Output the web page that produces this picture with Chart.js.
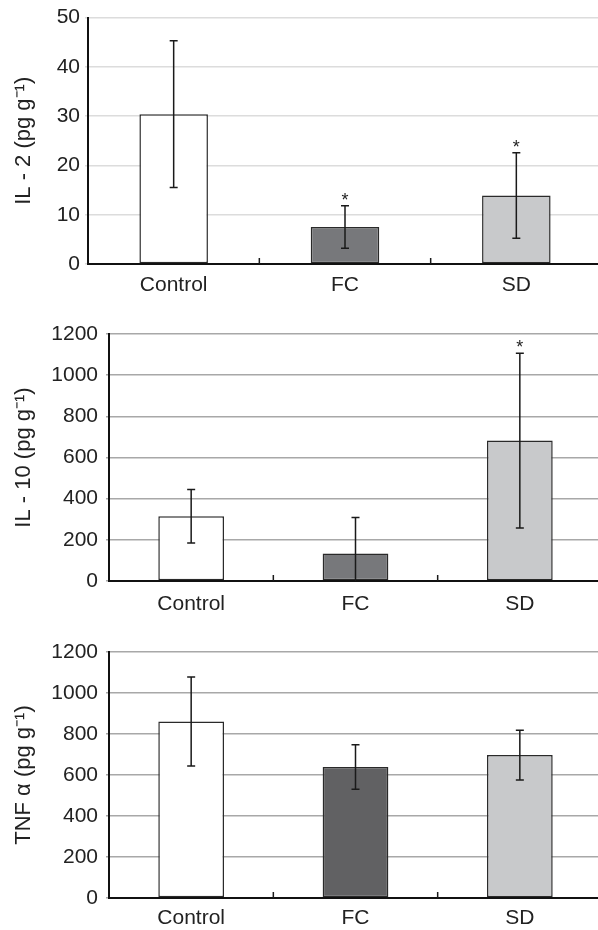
<!DOCTYPE html>
<html>
<head>
<meta charset="utf-8">
<script src="https://cdn.jsdelivr.net/npm/chart.js@4/dist/chart.umd.min.js"></script>
<style>
    html, body { margin: 0; padding: 0; background: #fff; overflow: hidden; width: 598px; height: 930px; }
    canvas { display: block; }
</style>
</head>
<body>
<canvas id="il2-chart" width="604" height="300"></canvas>
<canvas id="il10-chart" width="604" height="320"></canvas>
<canvas id="tnf-chart" width="604" height="310"></canvas>
<script>
// --- data ---
const groups = ['Control', 'FC', 'SD'];

const il2Mean = [30.4, 7.5, 13.9];
const il2Err = [14.9, 4.3, 8.7];
const il2Star = [false, true, true];
const il2Ticks = [0, 10, 20, 30, 40, 50];

const il10Mean = [315, 133, 682];
const il10Err = [130, 176, 424];
const il10Star = [false, false, true];
const il10Ticks = [0, 200, 400, 600, 800, 1000, 1200];

const tnfMean = [861, 639, 697];
const tnfErr = [217, 108, 121];
const tnfStar = [false, false, false];
const tnfTicks = [0, 200, 400, 600, 800, 1000, 1200];

const FONT = '"Liberation Sans", Arial, Helvetica, sans-serif';

// error bars, asterisks and the little category ticks on the x axis
const errorBars = {
    id: 'errorBars',
    afterDatasetsDraw(chart, args, opts) {
        const { ctx, chartArea: a, scales: { x, y } } = chart;
        const meta = chart.getDatasetMeta(0);

        ctx.save();
        ctx.beginPath();
        ctx.rect(a.left, a.top - 40, a.right - a.left, a.bottom - a.top + 40);
        ctx.clip();

        ctx.strokeStyle = '#1a1a1a';
        ctx.lineWidth = 1.5;
        meta.data.forEach((bar, i) => {
            const cx = bar.x;
            const hi = y.getPixelForValue(opts.mean[i] + opts.err[i]);
            const lo = y.getPixelForValue(opts.mean[i] - opts.err[i]);
            ctx.beginPath();
            ctx.moveTo(cx, hi); ctx.lineTo(cx, lo);
            ctx.moveTo(cx - 4, hi); ctx.lineTo(cx + 4, hi);
            ctx.moveTo(cx - 4, lo); ctx.lineTo(cx + 4, lo);
            ctx.stroke();

            if (opts.star[i]) {
                ctx.fillStyle = '#222';
                ctx.font = '18px ' + FONT;
                ctx.textAlign = 'center';
                ctx.textBaseline = 'alphabetic';
                ctx.fillText('*', cx, hi);
            }
        });
        ctx.restore();

        // small upward ticks between categories
        ctx.save();
        ctx.strokeStyle = '#1a1a1a';
        ctx.lineWidth = 1.5;
        for (let i = 0; i < groups.length - 1; i++) {
            const bx = (x.getPixelForValue(i) + x.getPixelForValue(i + 1)) / 2;
            ctx.beginPath();
            ctx.moveTo(bx, a.bottom);
            ctx.lineTo(bx, a.bottom - 6);
            ctx.stroke();
        }
        ctx.restore();
    }
};

function makeChart(id, cfg) {
    const ctx = document.getElementById(id).getContext('2d');
    return new Chart(ctx, {
        type: 'bar',
        data: {
            labels: groups,
            datasets: [{
                data: cfg.mean,
                backgroundColor: cfg.colors,
                borderColor: '#2a2a2a',
                borderWidth: 1.5,
                borderSkipped: false,
                categoryPercentage: 1,
                barPercentage: 0.4
            }]
        },
        options: {
            responsive: false,
            animation: false,
            devicePixelRatio: 1,
            layout: { padding: { top: cfg.top, right: 2, bottom: 0, left: 0 } },
            plugins: {
                legend: { display: false },
                tooltip: { enabled: false },
                errorBars: { mean: cfg.mean, err: cfg.err, star: cfg.star }
            },
            scales: {
                x: {
                    grid: { display: false },
                    border: { color: '#111', width: 2 },
                    ticks: { color: '#222', font: { family: FONT, size: 21 }, padding: cfg.xPad },
                    afterFit: s => { s.height = cfg.xHeight; }
                },
                y: {
                    min: 0,
                    max: cfg.ticks[cfg.ticks.length - 1],
                    afterBuildTicks: s => { s.ticks = cfg.ticks.map(v => ({ value: v })); },
                    grid: { color: cfg.gridColor, lineWidth: 1.5, tickLength: 3 },
                    border: { color: '#111', width: 2 },
                    ticks: {
                        color: '#222',
                        font: { family: FONT, size: 21 },
                        padding: cfg.yPad,
                        callback: v => String(v)
                    },
                    title: {
                        display: true,
                        text: cfg.title,
                        color: '#222',
                        font: { family: FONT, size: 22 },
                        padding: { top: 11, bottom: 0 }
                    },
                    afterFit: s => { s.width = cfg.axisX; }
                }
            }
        },
        plugins: [errorBars]
    });
}

makeChart('il2-chart', {
    mean: il2Mean, err: il2Err, star: il2Star, ticks: il2Ticks,
    colors: ['#ffffff', '#77787b', '#c8c9cb'],
    gridColor: '#dcdcdc', title: 'IL - 2 (pg g\u207B\u00B9)',
    top: 16, axisX: 88, xHeight: 36, xPad: 1, yPad: 5
});

makeChart('il10-chart', {
    mean: il10Mean, err: il10Err, star: il10Star, ticks: il10Ticks,
    colors: ['#ffffff', '#77787b', '#c8c9cb'],
    gridColor: '#a8a8a8', title: 'IL - 10 (pg g\u207B\u00B9)',
    top: 34, axisX: 109, xHeight: 39, xPad: 3, yPad: 8
});

makeChart('tnf-chart', {
    mean: tnfMean, err: tnfErr, star: tnfStar, ticks: tnfTicks,
    colors: ['#ffffff', '#616163', '#c8c9cb'],
    gridColor: '#a8a8a8', title: 'TNF \u03B1 (pg g\u207B\u00B9)',
    top: 32, axisX: 109, xHeight: 32, xPad: 0, yPad: 8
});
</script>
</body>
</html>
